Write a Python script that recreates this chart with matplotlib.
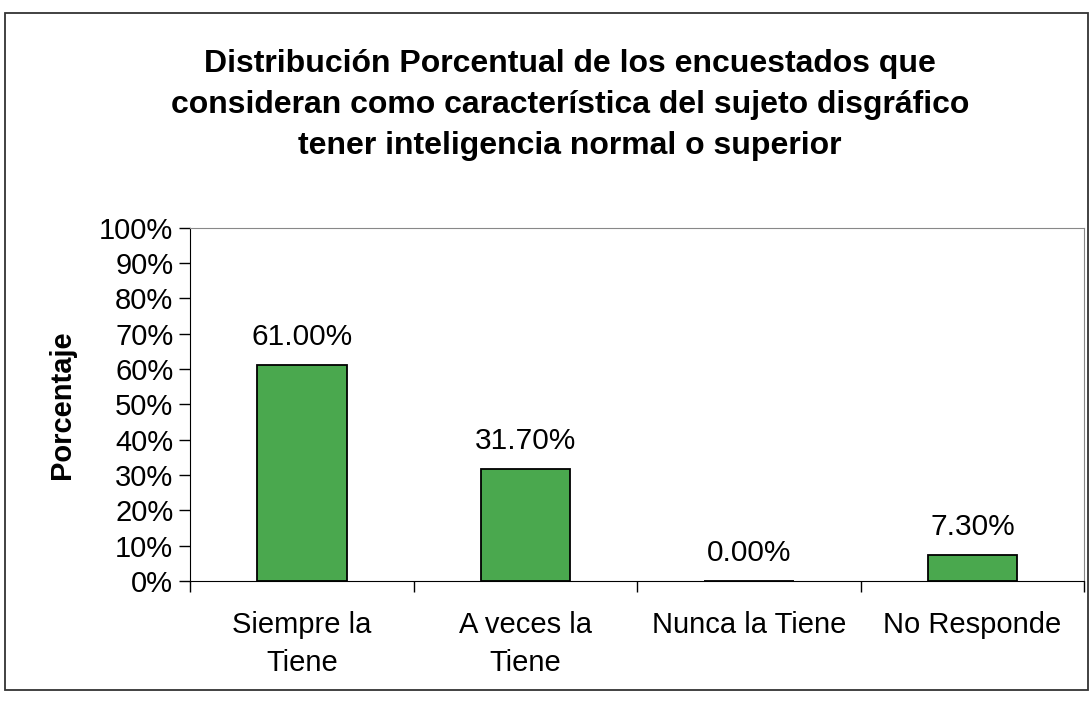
import matplotlib.pyplot as plt
from matplotlib.patches import Rectangle
import numpy as np

plt.rcParams['font.family'] = ['Liberation Sans', 'DejaVu Sans']

categorias = ['Siempre la\nTiene', 'A veces la\nTiene', 'Nunca la Tiene', 'No Responde']
porcentajes = [61.0, 31.7, 0.0, 7.3]
etiquetas = ['61.00%', '31.70%', '0.00%', '7.30%']
yticks = list(range(0, 101, 10))

fig = plt.figure(figsize=(10.92, 7.05), dpi=100)
# marco exterior del grafico
fig.patches.append(Rectangle((0.005, 0.021), 0.991, 0.96, transform=fig.transFigure,
                             fill=False, edgecolor='#333333', linewidth=1.3))

ax = fig.add_axes([0.174, 0.176, 0.819, 0.501])
x = np.arange(len(categorias))
ax.bar(x, porcentajes, width=0.4, color='#4aa84e', edgecolor='black', linewidth=1.3)

for xi, v, t in zip(x, porcentajes, etiquetas):
    ax.text(xi, v + 4, t, ha='center', va='bottom', fontsize=21.5)

ax.set_xlim(-0.5, len(categorias) - 0.5)
ax.set_ylim(0, 100)
ax.set_yticks(yticks)
ax.set_yticklabels([f'{v}%' for v in yticks], fontsize=21)
ax.set_xticks(x)
ax.set_xticklabels(categorias, fontsize=21, linespacing=1.45)
ax.tick_params(axis='x', length=0, pad=22)
ax.set_xticks(np.arange(len(categorias) + 1) - 0.5, minor=True)
ax.tick_params(axis='x', which='minor', length=8, direction='out', width=1)
ax.tick_params(axis='y', length=8, direction='out', width=1, pad=4)

for s in ['top', 'right']:
    ax.spines[s].set_color('#888888')
ax.spines['left'].set_color('black')
ax.spines['bottom'].set_color('black')

ax.set_ylabel('Porcentaje', fontsize=21, fontweight='bold')
ax.yaxis.set_label_coords(-0.128, 0.5)

fig.text(0.522, 0.93,
         'Distribución Porcentual de los encuestados que\n'
         'consideran como característica del sujeto disgráfico\n'
         'tener inteligencia normal o superior',
         ha='center', va='top', fontsize=23, fontweight='bold', linespacing=1.47)

fig.savefig('out.png', dpi=100)
